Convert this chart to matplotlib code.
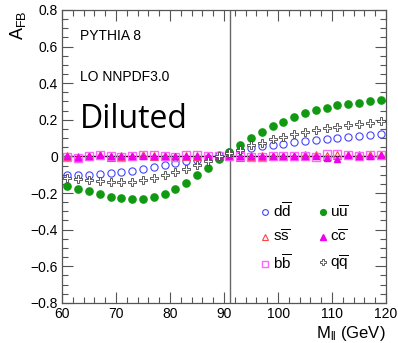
import numpy as np
import matplotlib
matplotlib.use('Agg')
import matplotlib.pyplot as plt
from matplotlib.ticker import MultipleLocator

plt.rcParams['font.family'] = ['Liberation Sans', 'DejaVu Sans']
plt.rcParams['mathtext.fontset'] = 'custom'
plt.rcParams['mathtext.rm'] = 'Liberation Sans'
plt.rcParams['mathtext.it'] = 'Liberation Sans'

# Data
mass = [61, 63, 65, 67, 69, 71, 73, 75, 77, 79, 81, 83, 85, 87, 89,
        91, 93, 95, 97, 99, 101, 103, 105, 107, 109, 111, 113, 115, 117, 119]

afb_dd = [-0.104, -0.102, -0.101, -0.097, -0.093, -0.086, -0.080, -0.070, -0.058, -0.045,
          -0.035, -0.026, -0.018, -0.008, 0.008, 0.025, 0.035, 0.048, 0.055, 0.062,
          0.070, 0.077, 0.083, 0.090, 0.096, 0.101, 0.107, 0.113, 0.117, 0.124]
afb_uu = [-0.160, -0.177, -0.190, -0.205, -0.220, -0.226, -0.230, -0.230, -0.222, -0.203,
          -0.177, -0.144, -0.102, -0.062, -0.016, 0.022, 0.060, 0.102, 0.135, 0.164,
          0.190, 0.214, 0.236, 0.252, 0.263, 0.280, 0.285, 0.292, 0.305, 0.307]
afb_qq = [-0.117, -0.126, -0.131, -0.135, -0.142, -0.141, -0.138, -0.131, -0.120, -0.104,
          -0.086, -0.068, -0.046, -0.024, 0.001, 0.020, 0.035, 0.062, 0.075, 0.093,
          0.108, 0.120, 0.135, 0.145, 0.155, 0.163, 0.170, 0.178, 0.185, 0.192]
afb_ss = [0.002, -0.004, 0.003, 0.006, -0.002, 0.000, 0.004, 0.005, 0.003, 0.002,
          -0.003, 0.004, 0.001, 0.003, 0.000, 0.002, -0.002, 0.001, 0.003, 0.002,
          0.004, 0.003, 0.005, 0.006, 0.004, 0.008, 0.006, 0.005, 0.007, 0.009]
afb_cc = [0.004, -0.002, 0.003, 0.005, 0.002, 0.003, 0.004, 0.003, 0.004, 0.002,
          0.003, 0.002, 0.001, 0.003, 0.002, 0.004, 0.001, 0.002, 0.003, 0.001,
          0.002, 0.003, 0.002, 0.004, -0.010, -0.013, 0.006, 0.003, 0.004, 0.006]
afb_bb = [-0.005, -0.007, 0.002, 0.008, 0.001, -0.002, 0.002, 0.005, 0.005, 0.002,
          -0.003, 0.006, 0.006, 0.002, 0.000, 0.004, 0.001, -0.002, -0.001, 0.000,
          0.001, 0.002, 0.003, -0.002, 0.012, 0.014, 0.005, 0.002, 0.007, 0.006]

mz = 91.19

fig = plt.figure(figsize=(3.98, 3.43), dpi=100)
ax = fig.add_axes([0.156, 0.117, 0.814, 0.854])

ax.axhline(0, color='black', lw=1.0, zorder=1)
ax.axvline(mz, color='#666666', lw=1.0, zorder=1)

ms = 5.2
h_dd, = ax.plot(mass, afb_dd, 'o', ls='none', mfc='none', mec='#4444ff', mew=0.8, ms=ms)
h_ss, = ax.plot(mass, afb_ss, '^', ls='none', mfc='none', mec='#ff4444', mew=0.8, ms=ms)
h_bb, = ax.plot(mass, afb_bb, 's', ls='none', mfc='none', mec='#ff66ff', mew=1.0, ms=ms)
h_uu, = ax.plot(mass, afb_uu, 'o', ls='none', color='#119911', ms=ms)
h_cc, = ax.plot(mass, afb_cc, '^', ls='none', color='#ee00ee', ms=ms - 0.5)
h_qq, = ax.plot(mass, afb_qq, 'P', ls='none', mfc='white', mec='#444444', mew=0.6, ms=ms)

ax.set_xlim(60, 120)
ax.set_ylim(-0.8, 0.8)
ax.xaxis.set_major_locator(MultipleLocator(10))
ax.xaxis.set_minor_locator(MultipleLocator(2))
ax.yaxis.set_major_locator(MultipleLocator(0.2))
ax.yaxis.set_minor_locator(MultipleLocator(0.05))
ax.yaxis.set_major_formatter(plt.FuncFormatter(lambda v, p: '0' if abs(v) < 1e-9 else f'{v:.1f}'.replace('-', '\u2212')))

ax.tick_params(which='both', direction='in', top=True, right=True, labelsize=10,
               color='#555555', width=0.8)
ax.tick_params(which='major', length=8, pad=3)
ax.tick_params(which='minor', length=4.5)
for s in ax.spines.values():
    s.set_color('#555555')
    s.set_linewidth(0.9)

ax.set_ylabel(r'A$_{\mathrm{FB}}$', fontsize=13, loc='top', labelpad=2)
ax.set_xlabel(r'M$_{\mathrm{ll}}$ (GeV)', fontsize=12, loc='right', labelpad=2)

ax.text(0.055, 0.91, 'PYTHIA 8', transform=ax.transAxes, fontsize=10, va='center')
ax.text(0.055, 0.77, 'LO NNPDF3.0', transform=ax.transAxes, fontsize=10, va='center')
ax.text(0.055, 0.625, 'Diluted', transform=ax.transAxes, fontsize=23, va='center',
        family='Open Sans')

labels = [r'd$\overline{\mathrm{d}}$', r's$\overline{\mathrm{s}}$', r'b$\overline{\mathrm{b}}$',
          r'u$\overline{\mathrm{u}}$', r'c$\overline{\mathrm{c}}$', r'q$\overline{\mathrm{q}}$']
ax.legend([h_dd, h_ss, h_bb, h_uu, h_cc, h_qq], labels, ncol=2, frameon=False,
          fontsize=11, loc='center', bbox_to_anchor=(0.745, 0.225),
          handletextpad=0.0, columnspacing=1.5, labelspacing=0.55, handlelength=1.0,
          markerscale=0.8)

fig.savefig('out.png', dpi=100)
